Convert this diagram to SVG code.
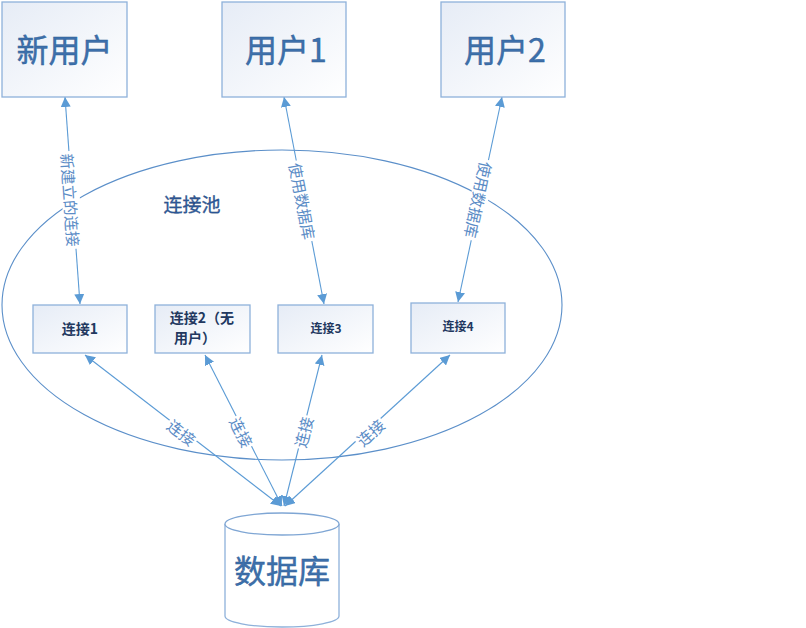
<svg xmlns="http://www.w3.org/2000/svg" width="806" height="628" viewBox="0 0 806 628">
<defs>
<linearGradient id="boxg" x1="0" y1="0" x2="1" y2="1">
<stop offset="0" stop-color="#E6ECF6"/>
<stop offset="1" stop-color="#FFFFFF"/>
</linearGradient>
<marker id="ah" viewBox="0 0 10 10" refX="10" refY="5" markerWidth="10" markerHeight="10" markerUnits="userSpaceOnUse" orient="auto-start-reverse">
<path d="M0,0 L10,5 L0,10 z" fill="#5B9BD5"/>
</marker>
<style>
.box{fill:url(#boxg);stroke:#8EB1DA;stroke-width:1.3}
.big{font-family:"Noto Sans CJK SC","Liberation Sans",sans-serif;fill:#3D70AB;stroke:#2A5A94;stroke-width:0.4}
.small{font-family:"Noto Sans CJK SC","Liberation Serif",serif;font-weight:bold;fill:#22385F}
.lbl{font-family:"Noto Sans CJK SC","Liberation Sans",sans-serif;font-size:15.5px;fill:#5B8CC6;text-anchor:middle;dominant-baseline:central}
.lblbg{fill:#FFFFFF}
.conn{stroke:#5B9BD5;stroke-width:1.1;fill:none;marker-start:url(#ah);marker-end:url(#ah)}
.pool{fill:none;stroke:#5B8FC9;stroke-width:1.1}
</style>
</defs>
<rect width="806" height="628" fill="#FFFFFF"/>
<g id="pool">
<ellipse class="pool" cx="282" cy="305" rx="280" ry="155"/>
<text x="192" y="212" font-family="Noto Sans CJK SC,sans-serif" font-size="19" fill="#2F5C9E" stroke="#1F3F70" stroke-width="0.3" text-anchor="middle">连接池</text>
</g>
<g id="connectors">
<line class="conn" x1="65" y1="97" x2="80" y2="304"/>
<line class="conn" x1="284" y1="97" x2="324" y2="304"/>
<line class="conn" x1="502" y1="97" x2="458" y2="302"/>
<line class="conn" x1="281" y1="506" x2="85" y2="355"/>
<line class="conn" x1="282" y1="506" x2="205" y2="355"/>
<line class="conn" x1="284" y1="506" x2="322" y2="355"/>
<line class="conn" x1="285" y1="506" x2="450" y2="355"/>
<g transform="translate(71,200) rotate(86)"><rect class="lblbg" x="-49" y="-9" width="98" height="18"/><text class="lbl" x="0" y="0">新建立的连接</text></g>
<g transform="translate(303,201) rotate(79)"><rect class="lblbg" x="-41" y="-9" width="82" height="18"/><text class="lbl" x="0" y="0">使用数据库</text></g>
<g transform="translate(479,200) rotate(102)"><rect class="lblbg" x="-41" y="-9" width="82" height="18"/><text class="lbl" x="0" y="0">使用数据库</text></g>
<g transform="translate(182,432) rotate(37.5)"><rect class="lblbg" x="-17" y="-9" width="34" height="18"/><text class="lbl" x="0" y="0">连接</text></g>
<g transform="translate(242,432) rotate(63)"><rect class="lblbg" x="-17" y="-9" width="34" height="18"/><text class="lbl" x="0" y="0">连接</text></g>
<g transform="translate(303,432) rotate(-75.6)"><rect class="lblbg" x="-17" y="-9" width="34" height="18"/><text class="lbl" x="0" y="0">连接</text></g>
<g transform="translate(370,432) rotate(-42)"><rect class="lblbg" x="-17" y="-9" width="34" height="18"/><text class="lbl" x="0" y="0">连接</text></g>
</g>
<g id="newuser">
<rect class="box" x="2" y="2" width="125" height="95"/>
<text class="big" x="64.5" y="62" font-size="32" text-anchor="middle">新用户</text>
</g>
<g id="user1">
<rect class="box" x="222" y="2" width="124" height="95"/>
<text class="big" x="286" y="62" font-size="32" text-anchor="middle">用户1</text>
</g>
<g id="user2">
<rect class="box" x="441" y="2" width="124" height="95"/>
<text class="big" x="505" y="62" font-size="32" text-anchor="middle">用户2</text>
</g>
<g id="conn1">
<rect class="box" x="33" y="305" width="94" height="48"/>
<text class="small" x="80" y="334" font-size="14" text-anchor="middle">连接1</text>
</g>
<g id="conn2">
<rect class="box" x="155" y="305" width="95" height="48"/>
<text class="small" x="202" y="323" font-size="14" text-anchor="middle">连接2（无</text>
<text class="small" x="195" y="343" font-size="14" text-anchor="middle">用户）</text>
</g>
<g id="conn3">
<rect class="box" x="278" y="305" width="95" height="48"/>
<text class="small" x="326" y="333" font-size="12" text-anchor="middle">连接3</text>
</g>
<g id="conn4">
<rect class="box" x="411" y="303" width="94" height="50"/>
<text class="small" x="458" y="331" font-size="12" text-anchor="middle">连接4</text>
</g>
<g id="database">
<path d="M225,524 L225,616 A57,11 0 0 0 339,616 L339,524" fill="#FFFFFF" stroke="#8EB1DA" stroke-width="1.3"/>
<ellipse cx="282" cy="524" rx="57" ry="11" fill="#FFFFFF" stroke="#7FA6D4" stroke-width="1.3"/>
<text class="big" x="282" y="583" font-size="32" text-anchor="middle">数据库</text>
</g>
</svg>
